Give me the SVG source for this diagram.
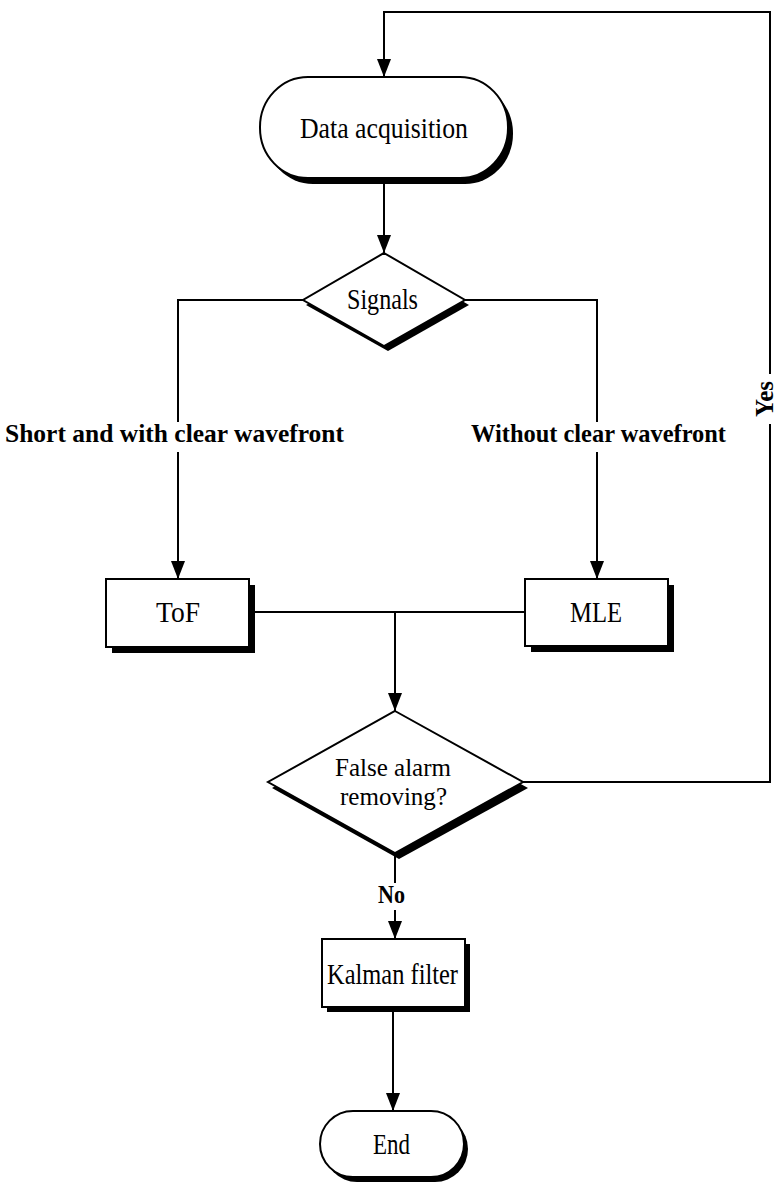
<svg xmlns="http://www.w3.org/2000/svg" width="777" height="1184" viewBox="0 0 777 1184">
<defs>
<style>
.ln{fill:none;stroke:#000;stroke-width:2}
.nd{fill:#fff;stroke:#000;stroke-width:2}
.sh{fill:#000;stroke:none}
.t{font-family:"Liberation Serif","Times New Roman",serif;font-size:30px;fill:#000}
.b{font-family:"Liberation Serif","Times New Roman",serif;font-size:25px;font-weight:bold;fill:#000}
</style>
<marker id="ah" markerUnits="userSpaceOnUse" markerWidth="18" markerHeight="14" refX="18" refY="7" orient="auto" viewBox="0 0 18 14">
<path d="M0,0 L18,7 L0,14 Z" fill="#000"/>
</marker>
</defs>
<rect width="777" height="1184" fill="#fff"/>
<g id="connectors">
<path class="ln" d="M523,782 H770 V424"/>
<path class="ln" d="M770,374 V12 H384 V77" marker-end="url(#ah)"/>
<line class="ln" x1="384" y1="178" x2="384" y2="253" marker-end="url(#ah)"/>
<path class="ln" d="M303,300 H178 V422"/>
<line class="ln" x1="178" y1="452" x2="178" y2="579" marker-end="url(#ah)"/>
<path class="ln" d="M465,300 H597 V422"/>
<line class="ln" x1="597" y1="452" x2="597" y2="579" marker-end="url(#ah)"/>
<path class="ln" d="M249,612 H525"/>
<line class="ln" x1="395" y1="612" x2="395" y2="711" marker-end="url(#ah)"/>
<line class="ln" x1="395" y1="853" x2="395" y2="883"/>
<line class="ln" x1="395" y1="910" x2="395" y2="939" marker-end="url(#ah)"/>
<line class="ln" x1="393" y1="1007" x2="393" y2="1111" marker-end="url(#ah)"/>
<text class="b" x="5" y="442" textLength="339" lengthAdjust="spacingAndGlyphs">Short and with clear wavefront</text>
<text class="b" x="471" y="442" textLength="255" lengthAdjust="spacingAndGlyphs">Without clear wavefront</text>
<text class="b" transform="translate(773,399) rotate(-90)" text-anchor="middle" font-size="21">Yes</text>
<text class="b" x="378" y="903" textLength="27" lengthAdjust="spacingAndGlyphs">No</text>
</g>
<g id="start">
<rect class="sh" x="265" y="83" width="248" height="101" rx="48" ry="50"/>
<rect class="nd" x="260" y="77" width="248" height="101" rx="48" ry="50"/>
<text class="t" x="300" y="138" textLength="168" lengthAdjust="spacingAndGlyphs">Data acquisition</text>
</g>
<g id="signals">
<polygon class="sh" points="388,258 469,305 388,351 306,305"/>
<polygon class="nd" points="384,253 465,300 384,346 303,300"/>
<text class="t" x="347" y="309" textLength="71" lengthAdjust="spacingAndGlyphs">Signals</text>
</g>
<g id="tof">
<rect class="sh" x="112" y="585" width="143" height="68"/>
<rect class="nd" x="106" y="579" width="143" height="68"/>
<text class="t" x="156" y="622" textLength="44" lengthAdjust="spacingAndGlyphs">ToF</text>
</g>
<g id="mle">
<rect class="sh" x="531" y="585" width="143" height="67"/>
<rect class="nd" x="525" y="579" width="143" height="67"/>
<text class="t" x="570" y="622" textLength="52" lengthAdjust="spacingAndGlyphs">MLE</text>
</g>
<g id="false-alarm">
<polygon class="sh" points="399,717 528,788 399,859 272,788"/>
<polygon class="nd" points="395,711 523,782 395,853 268,782"/>
<text class="t" x="335" y="776" font-size="25" textLength="116" lengthAdjust="spacingAndGlyphs" style="font-size:25px">False alarm</text>
<text class="t" x="340" y="805" font-size="25" textLength="107" lengthAdjust="spacingAndGlyphs" style="font-size:25px">removing?</text>
</g>
<g id="kalman">
<rect class="sh" x="327" y="944" width="143" height="68"/>
<rect class="nd" x="322" y="939" width="143" height="68"/>
<text class="t" x="327" y="984" textLength="131" lengthAdjust="spacingAndGlyphs">Kalman filter</text>
</g>
<g id="end">
<rect class="sh" x="324" y="1116" width="144" height="66" rx="33" ry="33"/>
<rect class="nd" x="320" y="1111" width="144" height="66" rx="33" ry="33"/>
<text class="t" x="373" y="1154" textLength="37" lengthAdjust="spacingAndGlyphs">End</text>
</g>
</svg>
